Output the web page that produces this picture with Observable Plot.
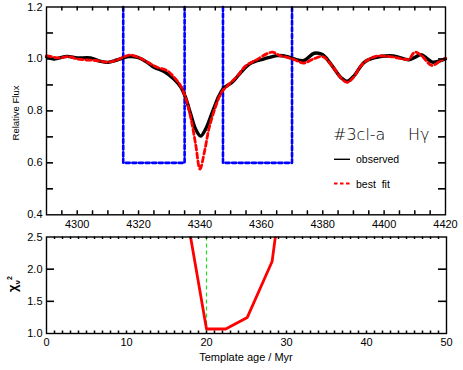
<!DOCTYPE html>
<html>
<head>
<meta charset="utf-8">
<script src="https://cdn.jsdelivr.net/npm/d3@7"></script>
<script src="https://cdn.jsdelivr.net/npm/@observablehq/plot@0.6"></script>
<style>
  body { margin: 0; background: #fff; }
  #wrap { position: relative; width: 463px; height: 370px; font-family: "Liberation Sans", Arial, sans-serif; color: #000; }
  #wrap svg { position: absolute; left: 0; }
  .ov { position: absolute; white-space: nowrap; line-height: 1; }
</style>
</head>
<body>
<div id="wrap"></div>
<script>
// ---------- data ----------
const obsWave = [4290, 4292.4, 4296.7, 4300, 4304.3, 4307.6, 4310, 4313, 4316.8, 4319.6, 4322.8, 4325, 4328.3, 4331.5, 4333.7, 4335.3, 4337, 4338.6, 4340.2, 4341.8, 4344, 4346.2, 4347.8, 4350.5, 4353.3, 4356.5, 4360.9, 4365.2, 4368.5, 4370.7, 4373.9, 4377.2, 4379.9, 4382.6, 4385.9, 4388, 4390.2, 4393.5, 4396.7, 4403, 4408, 4410, 4412, 4415.7, 4418, 4420];
const obsFlux = [1.009, 1.0, 1.01, 1.004, 1.004, 0.991, 0.987, 0.996, 1.009, 1.006, 0.987, 0.968, 0.952, 0.923, 0.893, 0.852, 0.787, 0.729, 0.703, 0.729, 0.794, 0.858, 0.888, 0.91, 0.948, 0.983, 1.0, 1.013, 1.009, 1.0, 0.994, 1.022, 1.017, 0.981, 0.929, 0.914, 0.935, 0.987, 1.004, 1.012, 0.997, 1.006, 1.016, 0.988, 0.992, 1.0];

const fitWave = [4290, 4294, 4297, 4300, 4303, 4306, 4310, 4313, 4317, 4320, 4323, 4326, 4329.3, 4331, 4333.5, 4335.3, 4337, 4338.6, 4340, 4341.5, 4343, 4345, 4347, 4349, 4352, 4355, 4358, 4363.5, 4366, 4369, 4371, 4373.8, 4377, 4380, 4383, 4386, 4388, 4390, 4393, 4397, 4402, 4406, 4408, 4410, 4412, 4415.5, 4418, 4420];
const fitFlux = [1.013, 1.004, 1.009, 1.0, 0.996, 0.994, 0.988, 0.996, 1.015, 1.006, 0.987, 0.968, 0.955, 0.937, 0.9, 0.852, 0.774, 0.671, 0.576, 0.645, 0.735, 0.813, 0.871, 0.897, 0.932, 0.974, 0.994, 1.026, 1.013, 1.004, 0.996, 0.984, 1.0, 1.009, 0.974, 0.926, 0.91, 0.929, 0.981, 1.009, 1.009, 1.0, 0.998, 1.026, 1.015, 0.975, 0.99, 1.004];

// fitting windows (wavelength ranges) and the level drawn for them
const windowStart = [4315, 4347.5];
const windowEnd   = [4335, 4370];
const windowLow = 0.6;
const windowHigh = 1.2;

const ages = [17.8, 20.0, 22.4, 25.1, 28.2, 31.6];
const chi2 = [2.65, 1.07, 1.07, 1.25, 2.12, 5.3];
const bestAge = 20.0;

const waveTickLabels = [4300, 4320, 4340, 4360, 4380, 4400, 4420];
const waveMinorTicks = d3.range(4295, 4420, 5);
const fluxTickLabels = [0.4, 0.6, 0.8, 1.0, 1.2];
const fluxMinorTicks = [0.5, 0.6, 0.7, 0.8, 0.9, 1.0, 1.1];
const ageTickLabels = [0, 10, 20, 30, 40, 50];
const ageMinorTicks = d3.range(1, 50, 1);
const chiTickLabels = [1.0, 1.5, 2.0, 2.5];
const chiMinorTicks = [1.5, 2.0];

// ---------- tables ----------
const obs = obsWave.map((w, i) => ({w, f: obsFlux[i]}));
const fit = fitWave.map((w, i) => ({w, f: fitFlux[i]}));
const boxes = [];
windowStart.forEach((s, k) => {
  const e = windowEnd[k];
  boxes.push({k, w: s, f: windowHigh}, {k, w: s, f: windowLow}, {k, w: e, f: windowLow}, {k, w: e, f: windowHigh});
});
const chiData = ages.map((a, i) => ({a, c: chi2[i]}));

const font = "Liberation Sans, Arial, sans-serif";
const wrap = document.getElementById("wrap");

// inward ticks: short rules whose length is a fixed number of pixels
function inwardTicks(xTicks, yTicks, xDom, yDom, dims, xLen, yLen) {
  const innerW = dims.w - dims.l - dims.r, innerH = dims.h - dims.t - dims.b;
  const dy = xLen * (yDom[1] - yDom[0]) / innerH;
  const dx = yLen * (xDom[1] - xDom[0]) / innerW;
  return [
    Plot.ruleX(xTicks, {x: d => d, y1: yDom[0], y2: yDom[0] + dy, stroke: "black", strokeWidth: 1.5}),
    Plot.ruleX(xTicks, {x: d => d, y1: yDom[1] - dy, y2: yDom[1], stroke: "black", strokeWidth: 1.5}),
    Plot.ruleY(yTicks, {y: d => d, x1: xDom[0], x2: xDom[0] + dx, stroke: "black", strokeWidth: 1.6}),
    Plot.ruleY(yTicks, {y: d => d, x1: xDom[1] - dx, x2: xDom[1], stroke: "black", strokeWidth: 1.6})
  ];
}

// ---------- top panel ----------
const T = {w: 463, h: 232, l: 46, r: 18, t: 6.5, b: 17.7};
const waveDom = [4290, 4420], fluxDom = [0.4, 1.2];
const topPlot = Plot.plot({
  width: T.w, height: T.h,
  marginLeft: T.l, marginRight: T.r, marginTop: T.t, marginBottom: T.b,
  style: {fontFamily: font, fontSize: "11px", overflow: "visible"},
  x: {domain: waveDom},
  y: {domain: fluxDom},
  marks: [
    Plot.line(boxes, {x: "w", y: "f", z: "k", stroke: "#0000ff", strokeWidth: 2.6, strokeDasharray: "4,2.6"}),
    Plot.line(obs, {x: "w", y: "f", stroke: "#000", strokeWidth: 3.4, curve: "catmull-rom"}),
    Plot.line(fit, {x: "w", y: "f", stroke: "#ff0000", strokeWidth: 2.8, strokeDasharray: "5,3", curve: "catmull-rom"}),
    ...inwardTicks(waveMinorTicks, fluxMinorTicks, waveDom, fluxDom, T, 4, 7),
    Plot.axisX(waveTickLabels, {anchor: "bottom", tickSize: 0, tickPadding: 5, fontSize: 11, tickFormat: d3.format("d"), label: null}),
    Plot.axisY(fluxTickLabels, {anchor: "left", tickSize: 0, tickPadding: 4, fontSize: 11, tickFormat: d3.format(".1f"), label: null}),
    Plot.frame({stroke: "#000", strokeWidth: 1.4})
  ]
});
topPlot.style.top = "0px";
wrap.appendChild(topPlot);

// ---------- bottom panel ----------
const B = {w: 463, h: 138, l: 46, r: 17, t: 4.5, b: 37};
const ageDom = [0, 50], chiDom = [1.0, 2.5];
const botPlot = Plot.plot({
  width: B.w, height: B.h,
  marginLeft: B.l, marginRight: B.r, marginTop: B.t, marginBottom: B.b,
  style: {fontFamily: font, fontSize: "11px", overflow: "visible"},
  x: {domain: ageDom},
  y: {domain: chiDom},
  marks: [
    Plot.ruleX([bestAge], {stroke: "#22dd22", strokeWidth: 1.2, strokeDasharray: "4,3"}),
    Plot.line(chiData, {x: "a", y: "c", stroke: "#ff0000", strokeWidth: 2.8, clip: true}),
    ...inwardTicks(ageMinorTicks, chiMinorTicks, ageDom, chiDom, B, 2.5, 8),
    Plot.axisX(ageTickLabels, {anchor: "bottom", tickSize: 0, tickPadding: 5, fontSize: 11, tickFormat: d3.format("d"), label: null}),
    Plot.axisY(chiTickLabels, {anchor: "left", tickSize: 0, tickPadding: 4, fontSize: 11, tickFormat: d3.format(".1f"), label: null}),
    Plot.frame({stroke: "#000", strokeWidth: 1.4})
  ]
});
botPlot.style.top = "232px";
wrap.appendChild(botPlot);

// ---------- text overlays ----------
function ov(html, css) {
  const d = document.createElement("div");
  d.className = "ov";
  d.innerHTML = html;
  Object.assign(d.style, css);
  wrap.appendChild(d);
  return d;
}
ov("Relative Flux", {left: "16px", top: "113px", fontSize: "9.5px", transform: "translate(-50%,-50%) rotate(-90deg)"});
ov("χ<sub style='font-size:8px'>ν</sub><sup style='font-size:7px'>2</sup>", {left: "14px", top: "284px", fontSize: "13px", fontWeight: "bold", transform: "translate(-50%,-50%) rotate(-90deg)"});
ov("Template age / Myr", {left: "246px", top: "357px", fontSize: "11px", transform: "translate(-50%,-50%)"});

// legend
ov("#3cl-a", {left: "333px", top: "135px", fontSize: "16px", fontFamily: "DejaVu Sans", fontWeight: "200", transform: "translateY(-50%)"});
ov("Hγ", {left: "408px", top: "135px", fontSize: "16px", fontFamily: "DejaVu Sans", fontWeight: "200", transform: "translateY(-50%)"});
ov("observed", {left: "356px", top: "159px", fontSize: "10.5px", transform: "translateY(-50%)"});
ov("best&nbsp; fit", {left: "356px", top: "184px", fontSize: "10.5px", transform: "translateY(-50%)"});
const leg = document.createElementNS("http://www.w3.org/2000/svg", "svg");
leg.setAttribute("width", 30); leg.setAttribute("height", 40);
leg.style.position = "absolute"; leg.style.left = "330px"; leg.style.top = "150px";
leg.innerHTML = `<line x1="4" x2="20" y1="9.3" y2="9.3" stroke="#000" stroke-width="1.4"/>
<line x1="4" x2="20" y1="33.5" y2="33.5" stroke="#ff0000" stroke-width="2.2" stroke-dasharray="3.5,2.5"/>`;
wrap.appendChild(leg);
</script>
</body>
</html>
